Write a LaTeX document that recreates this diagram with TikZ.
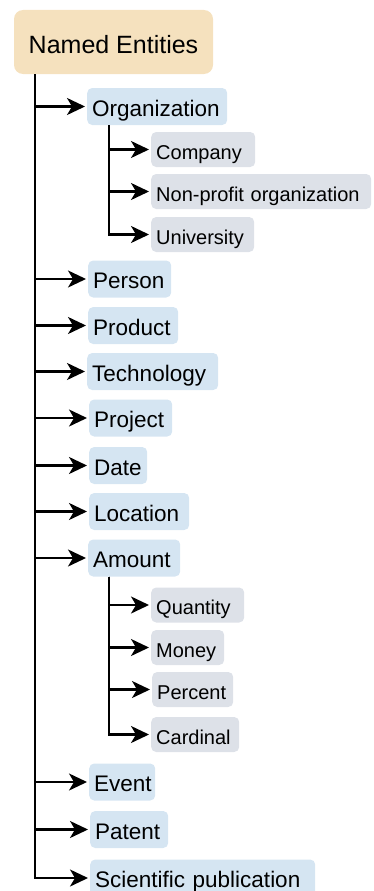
\documentclass[tikz,border=0pt]{standalone}
\usepackage{fontspec}
\setmainfont{Liberation Sans}
\usetikzlibrary{arrows.meta}
\definecolor{rootfill}{HTML}{F5E1BE}
\definecolor{lonefill}{HTML}{D5E5F2}
\definecolor{ltwofill}{HTML}{DDE1E8}
\begin{document}
\begin{tikzpicture}[x=1pt,y=-1pt,
  rootbox/.style={fill=rootfill, rounded corners=9pt, inner sep=0pt,
    minimum width=199pt, minimum height=64pt, text height=22pt, text depth=0pt,
    font=\fontsize{25}{30}\selectfont},
  lone/.style={fill=lonefill, rounded corners=5pt, anchor=west, inner xsep=5pt, inner ysep=0pt,
    minimum height=37pt, align=left, text height=19pt, text depth=0pt,
    font=\fontsize{22.5}{27}\selectfont},
  ltwo/.style={fill=ltwofill, rounded corners=5pt, anchor=west, inner xsep=5pt, inner ysep=0pt,
    minimum height=35pt, align=left, text height=19pt, text depth=0pt,
    font=\fontsize{20}{24}\selectfont},
  conn/.style={line width=2.2pt, -{Stealth[length=18pt,width=17pt,inset=5pt]}, shorten >=2pt}
]
\useasboundingbox (0,0) rectangle (373,891);

\node[rootbox] (root) at (113.5,42) {Named Entities};

% level 1
\node[lone, text width=130pt] (org)    at (87,106.5)  {Organization};
\node[lone, text width=73pt]  (person) at (88,279)    {Person};
\node[lone, text width=80pt]  (prod)   at (88,325.5)  {Product};
\node[lone, text width=121pt] (tech)   at (87,371.5)  {Technology};
\node[lone, text width=73pt]  (proj)   at (89,418)    {Project};
\node[lone, text width=48pt]  (date)   at (89,465.5)  {Date};
\node[lone, text width=90pt]  (loc)    at (89,511.5)  {Location};
\node[lone, text width=82pt]  (amount) at (88,558)    {Amount};
\node[lone, text width=56pt]  (event)  at (89,782)    {Event};
\node[lone, text width=68pt]  (patent) at (90,829.5)  {Patent};
\node[lone, text width=215pt] (sci)    at (90,878)    {Scientific publication};

% level 2
\node[ltwo, text width=94pt]  (comp)  at (151,149.5) {Company};
\node[ltwo, text width=210pt] (nonp)  at (151,191.5) {Non-profit organization};
\node[ltwo, text width=93pt]  (univ)  at (151,234.5) {University};
\node[ltwo, text width=83pt]  (quant) at (151,605)   {Quantity};
\node[ltwo, text width=63pt]  (money) at (151,647.5) {Money};
\node[ltwo, text width=71pt]  (perc)  at (152,689.5) {Percent};
\node[ltwo, text width=78pt]  (card)  at (151,734.5) {Cardinal};

% connectors from root
\coordinate (trunk) at ([xshift=21pt]root.south west);
\foreach \n in {org,person,prod,tech,proj,date,loc,amount,event,patent,sci}
  \draw[conn] (trunk) |- (\n.west);

% connectors from Organization
\coordinate (orgtrunk) at ([xshift=22pt]org.south west);
\foreach \n in {comp,nonp,univ}
  \draw[conn] (orgtrunk) |- (\n.west);

% connectors from Amount
\coordinate (amttrunk) at ([xshift=21pt]amount.south west);
\foreach \n in {quant,money,perc,card}
  \draw[conn] (amttrunk) |- (\n.west);
\end{tikzpicture}
\end{document}
